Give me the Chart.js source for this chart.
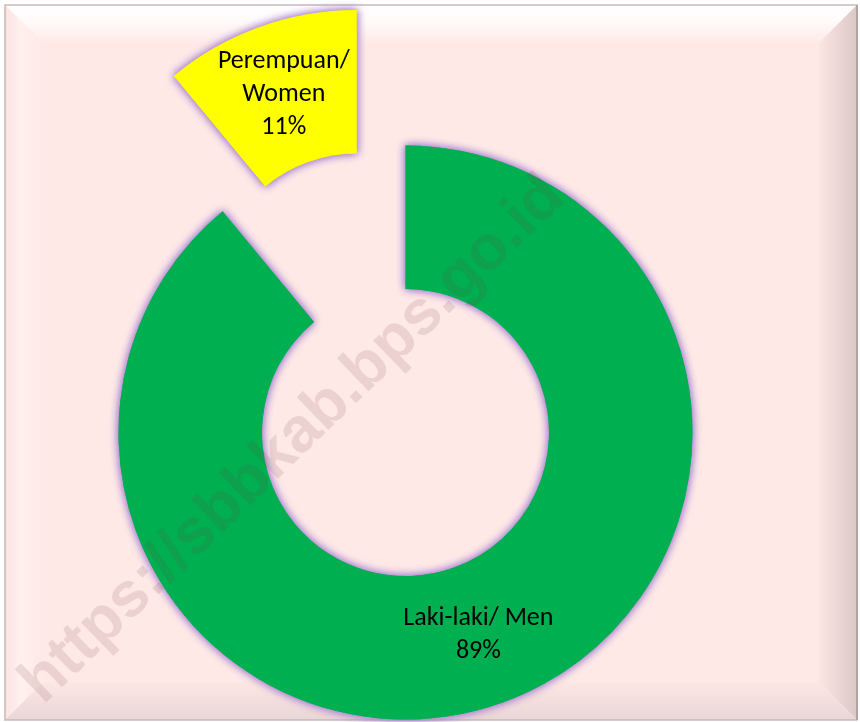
<!DOCTYPE html>
<html>
<head>
<meta charset="utf-8">
<script src="https://cdn.jsdelivr.net/npm/chart.js@4.4.1/dist/chart.umd.min.js"></script>
<style>
  html, body { margin: 0; padding: 0; background: #fff; }
  #wrap { width: 860px; height: 722px; position: relative; }
</style>
</head>
<body>
<div id="wrap"><canvas id="genderChart"></canvas></div>
<script>
// Data
const categories = ['Laki-laki/ Men', 'Perempuan/ Women'];
const shares = [89, 11];                 // percent
const sliceColors = ['#00b050', '#ffff00'];
const wrapLabel = [false, true];         // Excel wrapped the small slice label
const explodeBy = [0, 144];              // pull-out distance of each slice, px

const watermark = 'https://sbbkab.bps.go.id';
const labelFont = '26px Carlito, Lato, "Liberation Sans", sans-serif';

// Pink bevelled plot background
const framePlugin = {
    id: 'frame',
    beforeDraw(chart) {
        const ctx = chart.ctx;
        const W = chart.width, H = chart.height;
        const x0 = 5, y0 = 5, x1 = W - 3, y1 = H - 2, b = 38;
        ctx.save();
        ctx.fillStyle = '#ffffff';
        ctx.fillRect(0, 0, W, H);
        ctx.fillStyle = '#fee9e7';
        ctx.fillRect(x0, y0, x1 - x0, y1 - y0);

        // top bevel (glossy)
        let g = ctx.createLinearGradient(0, y0, 0, y0 + b);
        g.addColorStop(0, '#ffffff');
        g.addColorStop(0.45, '#fffafa');
        g.addColorStop(1, '#fee9e7');
        ctx.fillStyle = g;
        ctx.beginPath();
        ctx.moveTo(x0, y0); ctx.lineTo(x1, y0); ctx.lineTo(x1 - b, y0 + b); ctx.lineTo(x0 + b, y0 + b);
        ctx.closePath(); ctx.fill();

        // left bevel
        g = ctx.createLinearGradient(x0, 0, x0 + b, 0);
        g.addColorStop(0, '#fbe3e1');
        g.addColorStop(0.4, '#fff0ee');
        g.addColorStop(1, '#fee9e7');
        ctx.fillStyle = g;
        ctx.beginPath();
        ctx.moveTo(x0, y0); ctx.lineTo(x0 + b, y0 + b); ctx.lineTo(x0 + b, y1 - b); ctx.lineTo(x0, y1);
        ctx.closePath(); ctx.fill();

        // right bevel (shaded)
        g = ctx.createLinearGradient(x1 - b, 0, x1, 0);
        g.addColorStop(0, '#fbe6e4');
        g.addColorStop(1, '#dcc7c7');
        ctx.fillStyle = g;
        ctx.beginPath();
        ctx.moveTo(x1, y0); ctx.lineTo(x1, y1); ctx.lineTo(x1 - b, y1 - b); ctx.lineTo(x1 - b, y0 + b);
        ctx.closePath(); ctx.fill();

        // bottom bevel
        g = ctx.createLinearGradient(0, y1 - b, 0, y1);
        g.addColorStop(0, '#fde7e5');
        g.addColorStop(1, '#e9d6d6');
        ctx.fillStyle = g;
        ctx.beginPath();
        ctx.moveTo(x0, y1); ctx.lineTo(x1, y1); ctx.lineTo(x1 - b, y1 - b); ctx.lineTo(x0 + b, y1 - b);
        ctx.closePath(); ctx.fill();

        // outer edge
        ctx.strokeStyle = '#c9b9b9';
        ctx.lineWidth = 1.5;
        ctx.strokeRect(x0, y0, x1 - x0, y1 - y0);
        ctx.strokeStyle = '#a89999';
        ctx.beginPath(); ctx.moveTo(x1, y0); ctx.lineTo(x1, y1); ctx.stroke();
        ctx.restore();
    }
};

// Draw the arcs ourselves so an exploded slice is moved as a whole, with a lavender glow
const explodePlugin = {
    id: 'explode',
    beforeDatasetDraw(chart, args) {
        const ctx = chart.ctx;
        args.meta.data.forEach((arc, i) => {
            const mid = (arc.startAngle + arc.endAngle) / 2;
            const d = explodeBy[i] || 0;
            ctx.save();
            ctx.translate(Math.cos(mid) * d, Math.sin(mid) * d);
            ctx.shadowColor = 'rgba(165, 125, 210, 0.95)';
            ctx.shadowBlur = 9;
            arc.draw(ctx, chart.chartArea);   // two passes make the glow denser
            arc.draw(ctx, chart.chartArea);
            ctx.restore();
        });
        return false;
    }
};

// Category name and percent inside each slice
const labelPlugin = {
    id: 'sliceLabels',
    afterDatasetsDraw(chart) {
        const ctx = chart.ctx;
        const meta = chart.getDatasetMeta(0);
        ctx.save();
        ctx.font = labelFont;
        ctx.fillStyle = '#000';
        ctx.textAlign = 'center';
        ctx.textBaseline = 'middle';
        meta.data.forEach((arc, i) => {
            const mid = (arc.startAngle + arc.endAngle) / 2;
            const r = (arc.innerRadius + arc.outerRadius) / 2 + (explodeBy[i] || 0);
            const cx = arc.x + Math.cos(mid) * r;
            const cy = arc.y + Math.sin(mid) * r;
            let lines = wrapLabel[i] ? categories[i].split('/ ').map((s, k, a) => k < a.length - 1 ? s + '/' : s)
                                     : [categories[i]];
            lines = lines.concat(shares[i] + '%');
            const lh = 33;
            lines.forEach((t, k) => {
                ctx.fillText(t, cx, cy + (k - (lines.length - 1) / 2) * lh);
            });
        });
        ctx.restore();
    }
};

// Diagonal site watermark on top
const watermarkPlugin = {
    id: 'watermark',
    afterDraw(chart) {
        const ctx = chart.ctx;
        ctx.save();
        ctx.translate(293, 440);
        ctx.rotate(-44 * Math.PI / 180);
        ctx.font = 'bold 63px "Liberation Sans", Arial, sans-serif';
        ctx.fillStyle = 'rgba(110, 55, 55, 0.13)';
        ctx.textAlign = 'center';
        ctx.textBaseline = 'middle';
        ctx.fillText(watermark, 0, 0);
        ctx.restore();
    }
};

const ctx = document.getElementById('genderChart').getContext('2d');
const genderChart = new Chart(ctx, {
    type: 'doughnut',
    data: {
        labels: categories,
        datasets: [{
            data: shares,
            backgroundColor: sliceColors,
            borderWidth: 0
        }]
    },
    options: {
        responsive: true,
        maintainAspectRatio: false,
        animation: false,
        radius: 287,
        cutout: '50%',
        layout: {
            padding: { left: 0, right: 49, top: 143, bottom: 0 } // puts the ring centre at (405, 432)
        },
        plugins: {
            legend: { display: false },
            tooltip: { enabled: false }
        },
        events: []
    },
    plugins: [framePlugin, explodePlugin, labelPlugin, watermarkPlugin]
});
</script>
</body>
</html>
